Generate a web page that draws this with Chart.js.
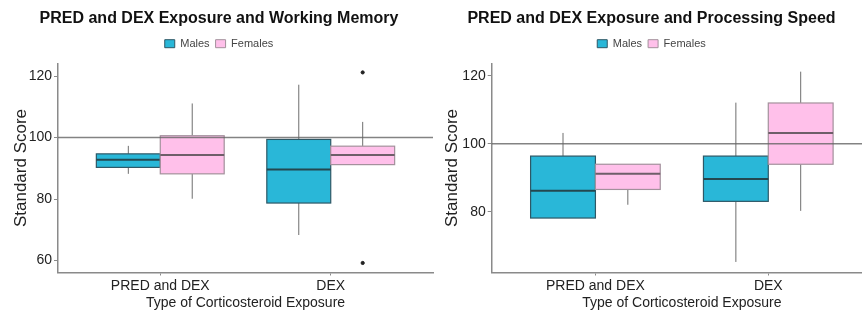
<!DOCTYPE html>
<html>
<head>
<meta charset="utf-8">
<script src="https://cdn.jsdelivr.net/npm/chart.js@4.4.0/dist/chart.umd.min.js"></script>
<style>
  html, body { margin: 0; padding: 0; background: #fff; }
  body { width: 862px; height: 312px; overflow: hidden; position: relative; }
  .panel { position: absolute; top: 0; height: 312px; }
</style>
</head>
<body>
<div class="panel" style="left:0;width:438px"><canvas id="wm"></canvas></div>
<div class="panel" style="left:431px;width:441px"><canvas id="ps"></canvas></div>
<script>
// categories on the x axis
const categories = ['PRED and DEX', 'DEX'];
const groups = ['Males', 'Females'];

// box stats per category: [lower whisker, q1, median, q3, upper whisker]
const wmMales = [[88.2, 90.3, 92.8, 94.7, 97.3], [68.3, 78.7, 89.6, 99.4, 117.2]];
const wmFemales = [[80.1, 88.2, 94.3, 100.6, 111.1], [91.2, 91.2, 94.3, 97.2, 105.1]];
const wmMaleOutliers = [[], []];
const wmFemaleOutliers = [[], [121.2, 59.2]];

const psMales = [[78.2, 78.2, 86.2, 96.4, 103.2], [65.3, 83.1, 89.7, 96.4, 112.1]];
const psFemales = [[82.1, 86.6, 91.2, 94.0, 94.0], [80.3, 94.0, 103.2, 112.0, 121.2]];
const psMaleOutliers = [[], []];
const psFemaleOutliers = [[], []];

// y axis ticks and ranges
const wmTicks = [60, 80, 100, 120];
const wmRange = [56.1, 124.1];
const psTicks = [80, 100, 120];
const psRange = [62.2, 123.6];
const refLine = 100;

const font = "'Liberation Sans', Arial, sans-serif";
const maleFill = '#29b7d8', maleEdge = '#2e5866', maleMed = '#24474f';
const femaleFill = '#ffc0ea', femaleEdge = '#a3919c', femaleMed = '#6e5e69';
const dodge = 0.1875; // half of one box width (0.75 / 2 / 2)

function pts(outliers, shift){
    const out = [];
    outliers.forEach((list, i) => list.forEach(v => out.push({x: i + 1 + shift, y: v})));
    return out;
}

// small empty strip between the legend and the plot
const gapPlugin = {
    id: 'gap',
    beforeInit(chart){
        Chart.layouts.addBox(chart, {
            position: 'top',
            weight: 500,
            fullSize: true,
            options: {},
            top: 0, left: 0, bottom: 0, right: 0, width: 0, height: 0,
            isHorizontal(){ return true; },
            update(maxWidth){ this.width = maxWidth; this.height = 4.3; },
            draw(){}
        });
    }
};

const boxPlugin = {
    id: 'boxes',
    beforeDatasetsDraw(chart, args, opts){
        const ctx = chart.ctx;
        const xs = chart.scales.x, ys = chart.scales.y;
        const sets = [
            {stats: opts.males, shift: -dodge, fill: maleFill, edge: maleEdge, med: maleMed},
            {stats: opts.females, shift: dodge, fill: femaleFill, edge: femaleEdge, med: femaleMed}
        ];
        ctx.save();
        sets.forEach(s => {
            s.stats.forEach((b, i) => {
                const c = i + 1 + s.shift;
                const xc = xs.getPixelForValue(c);
                const x0 = xs.getPixelForValue(c - dodge);
                const x1 = xs.getPixelForValue(c + dodge);
                const [lo, q1, md, q3, hi] = b.map(v => ys.getPixelForValue(v));
                // whiskers
                ctx.strokeStyle = '#6e6e6e';
                ctx.lineWidth = 1;
                ctx.beginPath();
                ctx.moveTo(xc, hi); ctx.lineTo(xc, q3);
                ctx.moveTo(xc, q1); ctx.lineTo(xc, lo);
                ctx.stroke();
                // box
                ctx.fillStyle = s.fill;
                ctx.fillRect(x0, q3, x1 - x0, q1 - q3);
                ctx.strokeStyle = s.edge;
                ctx.lineWidth = 1.2;
                ctx.strokeRect(x0, q3, x1 - x0, q1 - q3);
                // median
                ctx.strokeStyle = s.med;
                ctx.lineWidth = 2;
                ctx.beginPath();
                ctx.moveTo(x0, md); ctx.lineTo(x1, md);
                ctx.stroke();
            });
        });
        // reference line
        const yr = ys.getPixelForValue(refLine);
        ctx.strokeStyle = 'rgba(100,100,100,0.8)';
        ctx.lineWidth = 1.5;
        ctx.beginPath();
        ctx.moveTo(chart.chartArea.left, yr);
        ctx.lineTo(chart.chartArea.right, yr);
        ctx.stroke();
        ctx.restore();
    }
};

function makeChart(id, title, males, females, maleOut, femaleOut, ticks, range, yWidth){
    const ctx = document.getElementById(id).getContext('2d');
    return new Chart(ctx, {
        type: 'scatter',
        data: {
            datasets: [{
                label: groups[0],
                data: pts(maleOut, -dodge),
                backgroundColor: '#222',
                borderColor: '#222',
                pointRadius: 1.6
            }, {
                label: groups[1],
                data: pts(femaleOut, dodge),
                backgroundColor: '#222',
                borderColor: '#222',
                pointRadius: 1.6
            }]
        },
        options: {
            responsive: true,
            maintainAspectRatio: false,
            animation: false,
            layout: { padding: 0 },
            plugins: {
                title: {
                    display: true,
                    text: title,
                    color: '#111',
                    font: { family: font, size: 16, weight: 'bold' },
                    padding: { top: 9.4, bottom: 3.6 }
                },
                legend: {
                    display: true,
                    position: 'top',
                    labels: {
                        color: '#444',
                        font: { family: font, size: 11 },
                        boxWidth: 10,
                        boxHeight: 8,
                        padding: 6,
                        generateLabels(){
                            return [
                                {text: groups[0], fillStyle: maleFill, strokeStyle: maleEdge, lineWidth: 1, datasetIndex: 0, fontColor: '#444'},
                                {text: groups[1], fillStyle: femaleFill, strokeStyle: femaleEdge, lineWidth: 1, datasetIndex: 1, fontColor: '#444'}
                            ];
                        }
                    }
                },
                tooltip: { enabled: false },
                boxes: { males: males, females: females }
            },
            scales: {
                x: {
                    type: 'linear',
                    min: 0.4,
                    max: 2.6,
                    afterBuildTicks(scale){ scale.ticks = categories.map((c, i) => ({value: i + 1})); },
                    afterFit(scale){ scale.height = 39.5; },
                    ticks: {
                        autoSkip: false,
                        color: '#222',
                        font: { family: font, size: 14 },
                        padding: 2,
                        callback: v => categories[v - 1]
                    },
                    grid: { drawOnChartArea: false, drawTicks: true, tickLength: 3, color: '#8a8a8a' },
                    border: { display: true, color: '#8a8a8a', width: 1.5 },
                    title: {
                        display: true,
                        text: 'Type of Corticosteroid Exposure',
                        color: '#222',
                        font: { family: font, size: 14 },
                        padding: { top: 0, bottom: 0 }
                    }
                },
                y: {
                    min: range[0],
                    max: range[1],
                    afterBuildTicks(scale){ scale.ticks = ticks.map(v => ({value: v})); },
                    afterFit(scale){ scale.width = yWidth; },
                    ticks: {
                        color: '#222',
                        font: { family: font, size: 14 },
                        padding: 2
                    },
                    grid: { drawOnChartArea: false, drawTicks: true, tickLength: 4, color: '#8a8a8a' },
                    border: { display: true, color: '#8a8a8a', width: 1.5 },
                    title: {
                        display: true,
                        text: 'Standard Score',
                        color: '#222',
                        font: { family: font, size: 17 },
                        padding: { top: 11, bottom: 2 }
                    }
                }
            }
        },
        plugins: [gapPlugin, boxPlugin]
    });
}

makeChart('wm', 'PRED and DEX Exposure and Working Memory', wmMales, wmFemales, wmMaleOutliers, wmFemaleOutliers, wmTicks, wmRange, 58);
makeChart('ps', 'PRED and DEX Exposure and Processing Speed', psMales, psFemales, psMaleOutliers, psFemaleOutliers, psTicks, psRange, 60.7);
</script>
</body>
</html>
